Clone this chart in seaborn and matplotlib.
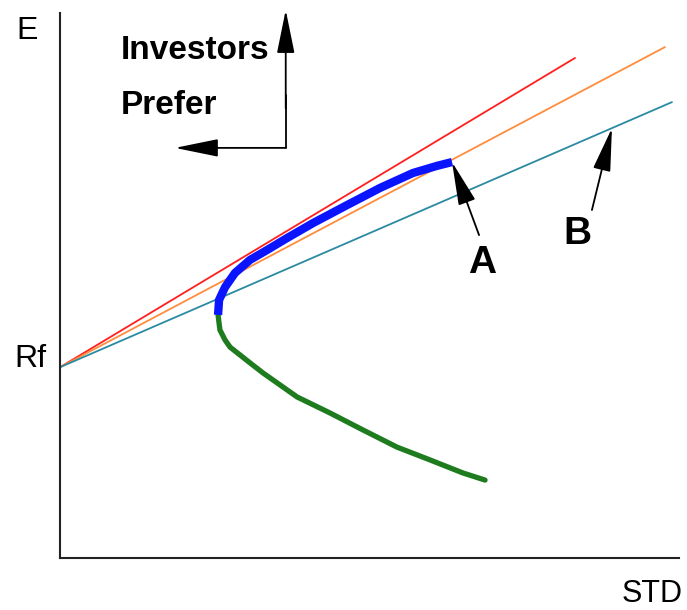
import matplotlib.pyplot as plt
import pandas as pd
import seaborn as sns

# risk-free rate and the three capital allocation lines (end points)
rf = 7.0
line_names = ['red', 'orange', 'teal']
line_end_std = [24.96, 29.32, 29.66]
line_end_e = [18.35, 18.75, 16.73]

# efficient (upper) part of the frontier
upper_std = [7.66, 7.71, 8.00, 8.48, 9.21, 10.03, 11.00, 12.26, 13.91, 15.51, 17.11, 18.27, 19.00]
upper_e = [8.92, 9.47, 9.94, 10.46, 10.94, 11.30, 11.74, 12.29, 12.95, 13.58, 14.13, 14.39, 14.53]

# inefficient (lower) part of the frontier
lower_std = [7.66, 7.75, 8.00, 8.24, 9.21, 9.84, 11.49, 13.09, 14.68, 16.33, 17.93, 19.53, 20.60]
lower_e = [8.92, 8.37, 8.00, 7.74, 7.16, 6.79, 5.91, 5.32, 4.70, 4.07, 3.60, 3.12, 2.86]

sns.set_style('white')
plt.rcParams['font.family'] = ['Liberation Sans', 'DejaVu Sans']
plt.rcParams['text.color'] = 'black'

fig = plt.figure(figsize=(6.87, 6.10), dpi=100)
ax = fig.add_axes([60 / 687, 52 / 610, 619 / 687, 545 / 610])

line_colors = {'red': '#ff1f1f', 'orange': '#ff8c3c', 'teal': '#2a8aa2'}
for name, xs, ys in zip(line_names, line_end_std, line_end_e):
    sns.lineplot(x=[0, xs], y=[rf, ys], color=line_colors[name], lw=1.3, ax=ax)

# green: whole frontier, blue: efficient part on top
n_up = 8
green = pd.DataFrame({'std': upper_std[:n_up][::-1] + lower_std[1:],
                      'e': upper_e[:n_up][::-1] + lower_e[1:]})
sns.lineplot(data=green, x='std', y='e', sort=False, estimator=None,
             color='#1e7b1e', lw=3.8, ax=ax)
sns.lineplot(x=upper_std, y=upper_e, sort=False, estimator=None,
             color='#0a14ff', lw=6, solid_capstyle='butt', ax=ax)

ax.set_xlim(0, 30)
ax.set_ylim(0, 20)
ax.set_xticks([])
ax.set_yticks([])
ax.set_xlabel('')
ax.set_ylabel('')
sns.despine(ax=ax)
for s in ['left', 'bottom']:
    ax.spines[s].set_color('#222222')
    ax.spines[s].set_linewidth(1.5)

# axis texts
ax.text(-1.6, 19.34, 'E', fontsize=23, ha='center', va='center')
ax.text(-1.41, 7.3, 'Rf', fontsize=23, ha='center', va='center')
ax.text(28.69, -1.32, 'STD', fontsize=22, ha='center', va='center', clip_on=False)

# "Investors Prefer" with up/left arrows
ax.text(2.96, 18.31, 'Investors', fontsize=24, fontweight='bold', ha='left', va='baseline')
ax.text(2.96, 16.29, 'Prefer', fontsize=24, fontweight='bold', ha='left', va='baseline')
head = '-|>,head_length=2.7,head_width=0.55'
arrow = dict(arrowstyle=head, color='black', lw=1.3, shrinkA=0, shrinkB=0)
ax.plot([10.94, 10.94], [15.05, 17.0], color='black', lw=1.3)
ax.annotate('', xy=(10.94, 20.11), xytext=(10.94, 16.5), annotation_clip=False,
            arrowprops=arrow)
ax.annotate('', xy=(5.57, 15.05), xytext=(10.94, 15.05), arrowprops=arrow)

# A: end of the efficient frontier, B: point on the lower line
ax.annotate('', xy=(upper_std[-1], upper_e[-1]), xytext=(20.31, 11.85), arrowprops=arrow)
ax.text(20.45, 10.83, 'A', fontsize=28, fontweight='bold', ha='center', va='center')
b_x = 26.75
b_y = rf + (line_end_e[2] - rf) / line_end_std[2] * b_x
ax.annotate('', xy=(b_x, b_y), xytext=(25.78, 12.77), arrowprops=arrow)
ax.text(25.10, 11.89, 'B', fontsize=28, fontweight='bold', ha='center', va='center')

fig.savefig('out.png', dpi=100)
